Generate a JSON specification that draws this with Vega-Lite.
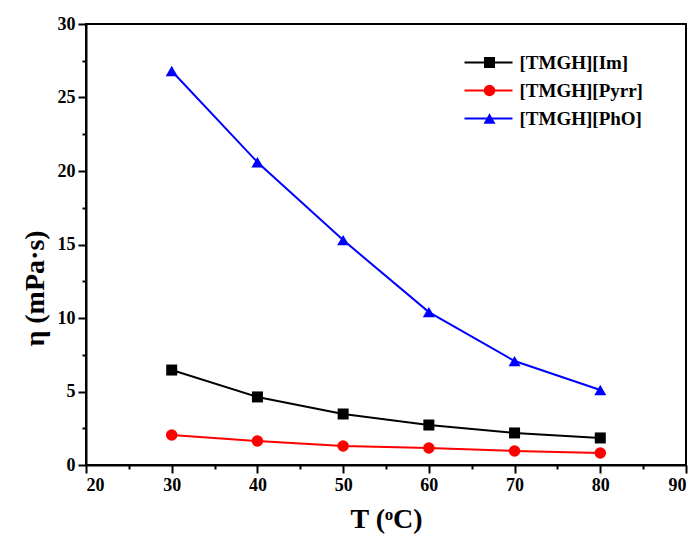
{
  "$schema": "https://vega.github.io/schema/vega-lite/v6.json",
  "width": 600,
  "height": 441,
  "autosize": {"type": "none"},
  "padding": {"left": 86, "top": 24, "right": 14, "bottom": 76},
  "background": "white",
  "config": {
    "font": "Liberation Serif",
    "view": {"stroke": "black", "strokeWidth": 2},
    "axis": {
      "domainColor": "black",
      "domainWidth": 2,
      "tickColor": "black",
      "tickWidth": 2,
      "grid": false,
      "labelFont": "Liberation Serif",
      "labelFontSize": 18,
      "labelFontWeight": "bold",
      "labelColor": "black",
      "titleFont": "Liberation Serif",
      "titleFontSize": 28,
      "titleFontWeight": "bold",
      "titleColor": "black"
    },
    "legend": {
      "labelFont": "Liberation Serif",
      "labelFontSize": 19,
      "labelFontWeight": "bold",
      "labelColor": "black"
    }
  },
  "data": {
    "values": [
      {"T": 30, "eta": 6.46, "IL": "[TMGH][Im]"},
      {"T": 40, "eta": 4.63, "IL": "[TMGH][Im]"},
      {"T": 50, "eta": 3.47, "IL": "[TMGH][Im]"},
      {"T": 60, "eta": 2.72, "IL": "[TMGH][Im]"},
      {"T": 70, "eta": 2.18, "IL": "[TMGH][Im]"},
      {"T": 80, "eta": 1.84, "IL": "[TMGH][Im]"},
      {"T": 30, "eta": 2.04, "IL": "[TMGH][Pyrr]"},
      {"T": 40, "eta": 1.63, "IL": "[TMGH][Pyrr]"},
      {"T": 50, "eta": 1.29, "IL": "[TMGH][Pyrr]"},
      {"T": 60, "eta": 1.16, "IL": "[TMGH][Pyrr]"},
      {"T": 70, "eta": 0.95, "IL": "[TMGH][Pyrr]"},
      {"T": 80, "eta": 0.82, "IL": "[TMGH][Pyrr]"},
      {"T": 30, "eta": 26.8, "IL": "[TMGH][PhO]"},
      {"T": 40, "eta": 20.6, "IL": "[TMGH][PhO]"},
      {"T": 50, "eta": 15.3, "IL": "[TMGH][PhO]"},
      {"T": 60, "eta": 10.4, "IL": "[TMGH][PhO]"},
      {"T": 70, "eta": 7.07, "IL": "[TMGH][PhO]"},
      {"T": 80, "eta": 5.1, "IL": "[TMGH][PhO]"}
    ]
  },
  "transform": [
    {"calculate": "datum.IL", "as": "marker"}
  ],
  "encoding": {
    "x": {
      "field": "T",
      "type": "quantitative",
      "scale": {"domain": [20, 90], "nice": false, "zero": false},
      "axis": {
        "title": "T (ᵒC)",
        "values": [20, 25, 30, 35, 40, 45, 50, 55, 60, 65, 70, 75, 80, 85, 90],
        "labelExpr": "datum.value % 10 === 0 ? datum.label : ''",
        "tickSize": {"condition": {"test": "datum.value % 10 === 0", "value": 8}, "value": 4},
        "labelPadding": 3,
        "titlePadding": 11
      }
    },
    "y": {
      "field": "eta",
      "type": "quantitative",
      "scale": {"domain": [0, 30], "nice": false},
      "axis": {
        "title": "η (mPa·s)",
        "values": [0, 2.5, 5, 7.5, 10, 12.5, 15, 17.5, 20, 22.5, 25, 27.5, 30],
        "labelExpr": "datum.value % 5 === 0 ? datum.label : ''",
        "tickSize": {"condition": {"test": "datum.value % 5 === 0", "value": 8}, "value": 4},
        "labelPadding": 3,
        "titleX": -51,
        "titleY": 264,
        "titleBaseline": "middle",
        "titleAlign": "center"
      }
    }
  },
  "layer": [
    {
      "mark": {"type": "line", "strokeWidth": 2},
      "encoding": {
        "stroke": {
          "field": "IL",
          "type": "nominal",
          "sort": ["[TMGH][Im]", "[TMGH][Pyrr]", "[TMGH][PhO]"],
          "scale": {"range": ["#000000", "#ff0000", "#0000ff"]},
          "legend": {
            "title": null,
            "orient": "none",
            "legendX": 393,
            "legendY": 29,
            "symbolType": "M-4,0H4",
            "symbolSize": 144,
            "symbolStrokeWidth": 2,
            "rowPadding": 8,
            "labelOffset": 21.5,
            "padding": 0
          }
        }
      }
    },
    {
      "mark": {"type": "point", "filled": true, "opacity": 1},
      "encoding": {
        "fill": {
          "field": "marker",
          "type": "nominal",
          "scale": {"domain": ["[TMGH][Im]", "[TMGH][Pyrr]", "[TMGH][PhO]"], "range": ["#000000", "#ff0000", "#0000ff"]},
          "legend": {
            "title": null,
            "orient": "none",
            "legendX": 394,
            "legendY": 29,
            "labelExpr": "''",
            "rowPadding": 8,
            "padding": 0
          }
        },
        "shape": {
          "field": "marker",
          "type": "nominal",
          "scale": {"domain": ["[TMGH][Im]", "[TMGH][Pyrr]", "[TMGH][PhO]"], "range": ["square", "circle", "triangle-up"]},
          "legend": {
            "title": null,
            "orient": "none",
            "legendX": 394,
            "legendY": 29,
            "labelExpr": "''",
            "rowPadding": 8,
            "padding": 0
          }
        },
        "size": {
          "field": "marker",
          "type": "nominal",
          "scale": {"domain": ["[TMGH][Im]", "[TMGH][Pyrr]", "[TMGH][PhO]"], "range": [121, 144, 190]},
          "legend": {
            "title": null,
            "orient": "none",
            "legendX": 394,
            "legendY": 29,
            "labelExpr": "''",
            "rowPadding": 8,
            "padding": 0
          }
        }
      }
    }
  ]
}
